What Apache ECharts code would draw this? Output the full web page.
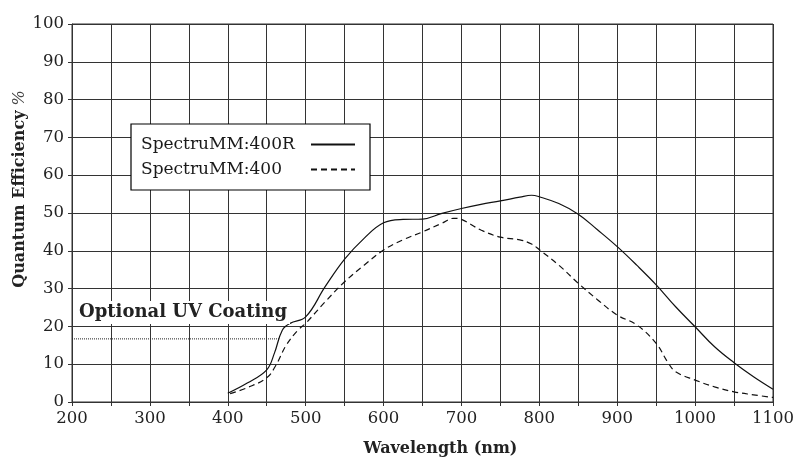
<!DOCTYPE html>
<html><head><meta charset="utf-8">
<script src="https://cdn.jsdelivr.net/npm/echarts@6/dist/echarts.min.js"></script>
<style>html,body{margin:0;padding:0;background:#fff}#c{width:804px;height:462px}</style>
</head><body><div id="c"></div>
<script>
// Data
const wl400R = [400,425,450,460,470,480,500,525,550,575,600,625,650,675,700,725,750,775,790,800,825,850,875,900,925,950,975,1000,1025,1050,1075,1100];
const qe400R = [2.3,5.0,8.5,13,19,20.8,22.5,30.5,37.8,43.3,47.4,48.3,48.4,49.9,51.2,52.3,53.2,54.2,54.7,54.3,52.5,49.7,45.5,41.1,36.2,31.0,25.2,19.9,14.6,10.4,6.7,3.4];
const wl400 = [403,425,450,462,475,490,500,525,550,575,600,625,650,675,690,700,725,750,775,790,800,825,850,875,900,925,950,965,975,1000,1025,1050,1075,1100];
const qe400 = [2.2,3.8,6.4,9.8,15,19,20.8,26.5,31.8,36.2,40.2,42.9,45,47.3,48.6,48.3,45.5,43.6,42.9,41.8,40.3,36.2,31.4,27,23,20.4,15.5,10.5,8,5.8,4,2.7,1.9,1.2];
const uvX = [200, 467];
const uvY = [16.7, 16.7];
const xTicks = [200,300,400,500,600,700,800,900,1000,1100];
const yTicks = [0,10,20,30,40,50,60,70,80,90,100];
const seriesNames = ['SpectruMM:400R','SpectruMM:400'];

const zip = (a,b) => a.map((v,i)=>[v,b[i]]);
const serif = '"DejaVu Serif","Liberation Serif",serif';
const chart = echarts.init(document.getElementById('c'));
chart.setOption({
  animation:false,
  backgroundColor:'#fff',
  grid:{left:72,right:31,top:24,bottom:60,show:true,borderColor:'#333',borderWidth:1,
        containLabel:false,outerBoundsMode:'none'},
  legend:{
    orient:'vertical', left:131, top:124, align:'right',
    data:seriesNames,
    borderColor:'#000', borderWidth:1.2, padding:[12,14,12,10],
    itemWidth:44, itemHeight:10, itemGap:8,
    backgroundColor:'#fff',
    itemStyle:{opacity:0},
    formatter:n=>'{t|'+n+'}',
    textStyle:{fontFamily:serif,fontSize:17,color:'#1a1a1a',
      rich:{t:{fontFamily:serif,fontSize:17,color:'#1a1a1a',width:165,align:'left'}}}
  },
  xAxis:{
    type:'value', min:200, max:1100, interval:50,
    name:'Wavelength (nm)', nameLocation:'middle', nameGap:39, nameMoveOverlap:false,
    nameTextStyle:{fontFamily:serif,fontSize:16,fontWeight:'bold',color:'#222',padding:[0,0,0,36]},
    axisLine:{show:true,lineStyle:{color:'#333',width:1}},
    axisTick:{show:true,length:4,lineStyle:{color:'#333'}},
    axisLabel:{fontFamily:serif,fontSize:16.5,color:'#222',margin:8,
      formatter:v=>xTicks.includes(v)?String(v):''},
    splitLine:{show:true,lineStyle:{color:'#333',width:1}}
  },
  yAxis:{
    type:'value', min:0, max:100, interval:10,
    name:'{b|Quantum Efficiency} {p|%}', nameLocation:'middle', nameGap:44, nameMoveOverlap:false,
    nameTextStyle:{fontFamily:serif,fontSize:16,color:'#222',padding:[0,0,0,48],
      rich:{b:{fontFamily:serif,fontSize:16,fontWeight:'bold',color:'#222'},
            p:{fontFamily:serif,fontSize:16,fontStyle:'italic',color:'#444'}}},
    axisLine:{show:true,lineStyle:{color:'#333',width:1}},
    axisTick:{show:true,length:4,lineStyle:{color:'#333'}},
    axisLabel:{fontFamily:serif,fontSize:16.5,color:'#222',margin:8,
      formatter:v=>yTicks.includes(v)?String(v):''},
    splitLine:{show:true,lineStyle:{color:'#333',width:1}}
  },
  graphic:[{
    type:'text', left:76, top:301, z:100,
    style:{text:'Optional UV Coating',font:'bold 18px "DejaVu Serif", serif',fill:'#222',
      backgroundColor:'#fff',padding:[2,3,3,3]}
  }],
  series:[
    {name:seriesNames[0],type:'line',data:zip(wl400R,qe400R),smooth:0.4,symbol:'none',
     lineStyle:{color:'#111',width:1.2,type:'solid'},itemStyle:{color:'#111'},z:5},
    {name:seriesNames[1],type:'line',data:zip(wl400,qe400),smooth:0.4,symbol:'none',
     lineStyle:{color:'#111',width:1.2,type:[6,4]},itemStyle:{color:'#111'},z:5},
    {name:'uv',type:'line',data:zip(uvX,uvY),symbol:'none',
     lineStyle:{color:'#222',width:1,type:[1,1]},z:4}
  ]
});
</script></body></html>
